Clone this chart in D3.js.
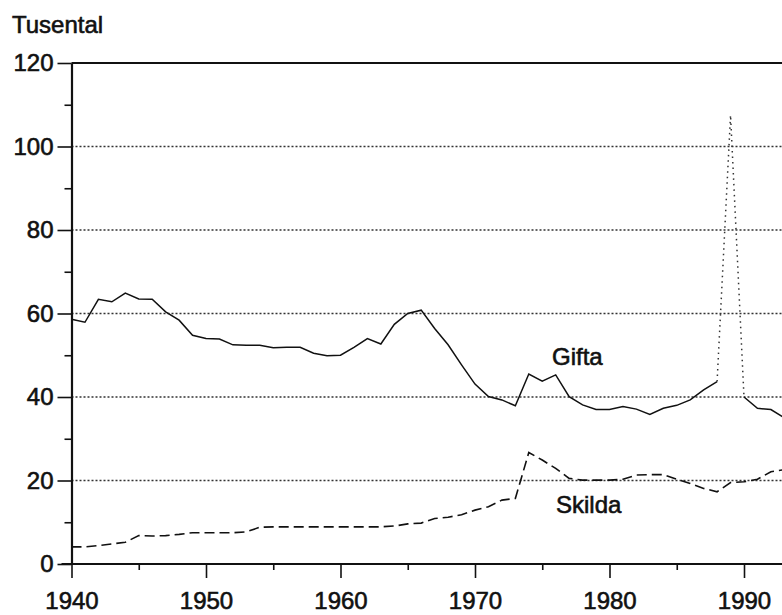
<!DOCTYPE html>
<html>
<head>
<meta charset="utf-8">
<script src="https://cdn.jsdelivr.net/npm/d3@7"></script>
<style>
  body { margin: 0; background: #fff; }
  text { font-family: "Liberation Sans", Arial, sans-serif; fill: #111; stroke: #111; stroke-width: 0.6px; }
</style>
</head>
<body>
<div id="chart"></div>
<script>
(function() {

    // data (thousands)
    var years = d3.range(1940, 1994);
    var gifta = [58.6, 57.9, 63.4, 62.8, 64.9, 63.5, 63.4, 60.4, 58.4, 54.8,
                 54.0, 53.9, 52.5, 52.4, 52.4, 51.8, 51.9, 51.9, 50.5, 49.9,
                 50.0, 51.9, 54.0, 52.7, 57.4, 60.0, 60.8, 56.4, 52.5, 47.7,
                 43.1, 40.1, 39.3, 37.9, 45.5, 43.8, 45.3, 40.1, 38.1, 37.0,
                 37.0, 37.7, 37.1, 35.8, 37.3, 38.0, 39.3, 41.7, 43.7, 107.5,
                 40.0, 37.3, 37.0, 35.0];
    var skilda = [4.1, 4.1, 4.4, 4.8, 5.2, 6.8, 6.7, 6.8, 7.1, 7.5,
                  7.5, 7.5, 7.5, 7.7, 8.8, 8.9, 8.9, 8.9, 8.9, 8.9,
                  8.9, 8.9, 8.9, 8.9, 9.1, 9.6, 9.8, 10.9, 11.2, 11.8,
                  12.9, 13.7, 15.3, 15.7, 26.7, 24.9, 22.9, 20.5, 20.1, 20.1,
                  20.1, 20.3, 21.3, 21.4, 21.4, 20.3, 19.3, 18.1, 17.3, 19.5,
                  19.7, 20.3, 22.1, 22.6];
    var spikeYears = [1988, 1989, 1990];
    var yMajor = [0, 20, 40, 60, 80, 100, 120];
    var yMinor = [10, 30, 50, 70, 90, 110];
    var yGrid = [20, 40, 60, 80, 100];
    var xMajor = [1940, 1950, 1960, 1970, 1980, 1990];
    var xMinor = [1945, 1955, 1965, 1975, 1985];

    var width = 782,
        height = 615;

    var svg = d3.select("#chart")
        .append('svg')
        .attr('width', width)
        .attr('height', height)

    var x = d3.scaleLinear().domain([1940, 1990]).range([71.5, 744])
    var y = d3.scaleLinear().domain([0, 120]).range([564, 63])

    var gData = years.map(function(yr, i) { return {year: yr, v: gifta[i]} })
    var sData = years.map(function(yr, i) { return {year: yr, v: skilda[i]} })

    // dotted grid
    svg.selectAll('.grid')
        .data(yGrid)
        .enter().append('line')
        .attr('class', 'grid')
        .attr('x1', x(1940))
        .attr('x2', width)
        .attr('y1', function(d) { return y(d) })
        .attr('y2', function(d) { return y(d) })
        .attr('stroke', '#333')
        .attr('stroke-width', 1.4)
        .attr('stroke-dasharray', '2,2')

    // top frame line
    svg.append('line')
        .attr('x1', x(1940))
        .attr('x2', width)
        .attr('y1', y(120))
        .attr('y2', y(120))
        .attr('stroke', '#111')
        .attr('stroke-width', 2)

    // axes
    var yAxis = svg.append('g')
        .attr('transform', 'translate(' + x(1940) + ',0)')
        .call(d3.axisLeft(y).tickValues(yMajor).tickSize(14).tickSizeOuter(0).tickPadding(4))
    yAxis.append('g')
        .call(d3.axisLeft(y).tickValues(yMinor).tickSize(7).tickFormat(''))
        .select('.domain').remove()

    var xAxis = svg.append('g')
        .attr('transform', 'translate(0,' + y(0) + ')')
        .call(d3.axisBottom(x).tickValues(xMajor).tickSize(14).tickSizeOuter(0).tickPadding(14).tickFormat(d3.format('d')))
    xAxis.append('g')
        .call(d3.axisBottom(x).tickValues(xMinor).tickSize(6).tickFormat(''))
        .select('.domain').remove()

    xAxis.select('.domain').attr('d', 'M' + (x(1940) - 10) + ',0H' + width)

    svg.selectAll('.domain')
        .attr('stroke', '#111')
        .attr('stroke-width', 2.2)
    svg.selectAll('.tick line')
        .attr('stroke', '#111')
        .attr('stroke-width', 1.6)
    svg.selectAll('.tick text')
        .style('font-size', '24px')
        .attr('fill', '#111')

    // lines
    var line = d3.line()
        .x(function(d) { return x(d.year) })
        .y(function(d) { return y(d.v) })

    var gBefore = gData.filter(function(d) { return d.year <= 1988 })
    var gAfter = gData.filter(function(d) { return d.year >= 1990 })
    var gSpike = gData.filter(function(d) { return spikeYears.indexOf(d.year) >= 0 })

    svg.append('path')
        .datum(sData)
        .attr('d', line)
        .attr('fill', 'none')
        .attr('stroke', '#111')
        .attr('stroke-width', 1.6)
        .attr('stroke-dasharray', '10,5')

    ;[gBefore, gAfter].forEach(function(seg) {
        svg.append('path')
            .datum(seg)
            .attr('d', line)
            .attr('fill', 'none')
            .attr('stroke', '#111')
            .attr('stroke-width', 1.5)
    })

    svg.append('path')
        .datum(gSpike)
        .attr('d', line)
        .attr('fill', 'none')
        .attr('stroke', '#333')
        .attr('stroke-width', 1.5)
        .attr('stroke-dasharray', '1.5,4')

    // labels
    svg.append('text')
        .attr('x', 12)
        .attr('y', 33)
        .style('font-size', '24px')
        .text('Tusental')

    svg.append('text')
        .attr('x', 552)
        .attr('y', 365)
        .style('font-size', '24px')
        .text('Gifta')

    svg.append('text')
        .attr('x', 556)
        .attr('y', 513)
        .style('font-size', '24px')
        .text('Skilda')

})();
</script>
</body>
</html>
